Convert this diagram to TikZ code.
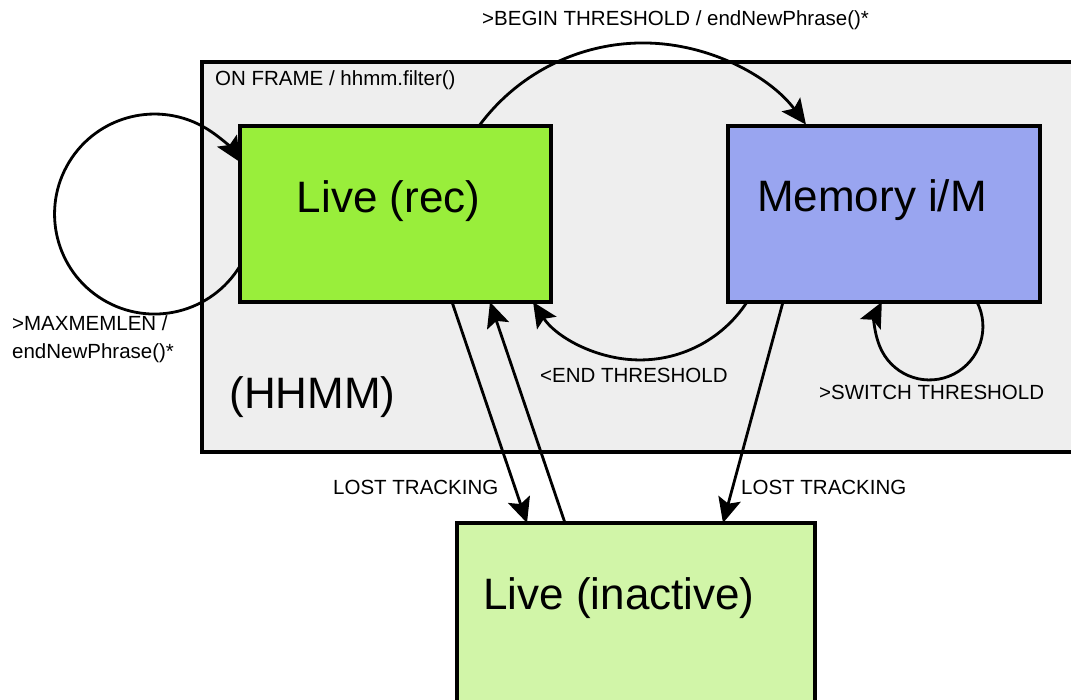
\documentclass[tikz,border=0pt]{standalone}
\usepackage{fontspec}
\setmainfont{Liberation Sans}
\usetikzlibrary{arrows.meta}
\definecolor{framebg}{RGB}{238,238,238}
\definecolor{recgreen}{RGB}{153,238,59}
\definecolor{memblue}{RGB}{153,165,240}
\definecolor{inactgreen}{RGB}{209,245,168}
\tikzset{
  statebox/.style={draw=black, line width=3.5pt, inner sep=0pt, outer sep=0pt},
  bigtext/.style={inner sep=0pt, font=\fontsize{44}{50}\selectfont},
  smalltext/.style={inner sep=0pt, anchor=west, font=\fontsize{20.5}{24}\selectfont},
  conn/.style={line width=2.8pt, -{Stealth[length=25pt,width=23pt,inset=5pt]}},
}
\begin{document}
\begin{tikzpicture}[x=1pt,y=1pt]
  \useasboundingbox (0,0) rectangle (1071,700);
  \clip (0,0) rectangle (1071,700);
  \fill[white] (0,0) rectangle (1071,700);

  % enclosing HHMM state
  \node[statebox, fill=framebg, minimum width=898pt, minimum height=390pt] (hhmm) at (651,443) {};
  \node[smalltext] (onframe) at (215,620) {ON FRAME / hhmm.filter()};
  \node[bigtext] (hhmmlabel) at (312.5,303) {(HHMM)};

  % inner states
  \node[statebox, fill=recgreen, minimum width=311pt, minimum height=176pt] (rec) at (395.5,486) {};
  \node[bigtext] (rectext) at (388.5,499) {Live (rec)};
  \node[statebox, fill=memblue, minimum width=312pt, minimum height=176pt] (mem) at (884,486) {};
  \node[bigtext] (memtext) at (872,500) {Memory i/M};
  \node[statebox, fill=inactgreen, minimum width=358pt, minimum height=207pt] (inact) at (636,73.5) {};
  \node[bigtext] (inacttext) at (619,102) {Live (inactive)};

  % self loop on the recording state
  \draw[conn] ([yshift=-52pt]rec.west) arc[start angle=-31.3, end angle=-328.7, radius=100pt];
  \node[smalltext] (maxlen1) at (12,377) {>MAXMEMLEN /};
  \node[smalltext] (maxlen2) at (12,347) {endNewPhrase()*};

  % begin threshold: recording -> memory
  \draw[conn] ([xshift=-72pt]rec.north east) arc[start angle=143.7, end angle=36.8, radius=203.5pt];
  \node[smalltext] (beginlbl) at (482,680) {>BEGIN THRESHOLD / endNewPhrase()*};

  % end threshold: memory -> recording
  \draw[conn] ([xshift=19pt]mem.south west) arc[start angle=-33.1, end angle=-146.9, radius=127.7pt];
  \node[smalltext] (endlbl) at (540,325) {<END THRESHOLD};

  % switch threshold loop on memory
  \draw[conn] ([xshift=-63pt]mem.south east) arc[start angle=27.2, end angle=-207.2, radius=53.5pt];
  \node[smalltext] (switchlbl) at (819,308) {>SWITCH THRESHOLD};

  % tracking transitions
  \draw[conn] ([xshift=212pt]rec.south west) -- ([xshift=70pt]inact.north west);
  \draw[conn] ([xshift=108pt]inact.north west) -- ([xshift=250pt]rec.south west);
  \draw[conn] ([xshift=55pt]mem.south west) -- ([xshift=266pt]inact.north west);
  \node[smalltext] (lost1) at (333,213) {LOST TRACKING};
  \node[smalltext] (lost2) at (741,213) {LOST TRACKING};
\end{tikzpicture}
\end{document}
